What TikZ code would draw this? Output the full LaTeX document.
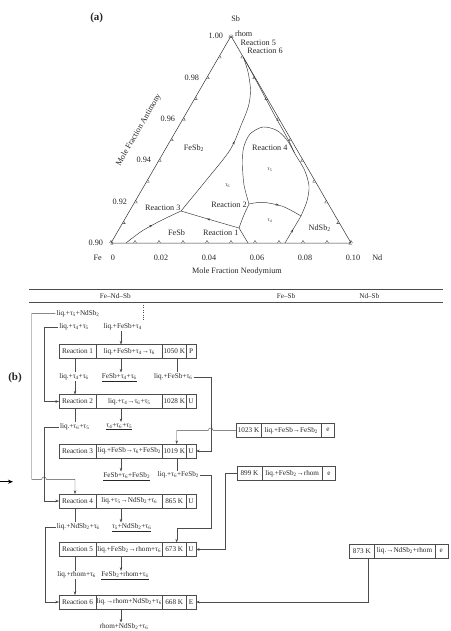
\documentclass[tikz,border=0pt]{standalone}
\usepackage{fontspec}
\setmainfont{Liberation Serif}
\usetikzlibrary{arrows.meta,calc,positioning,decorations.markings}
\tikzset{>=Stealth}
\newcommand{\tauph}[1]{τ\textsubscript{#1}}
\newcommand{\fsb}{FeSb\textsubscript{2}}
\newcommand{\nsb}{NdSb\textsubscript{2}}

\begin{document}
\begin{tikzpicture}[x=1pt, y=-1pt,
  every node/.style={text=black!85},
  tern/.style={font=\fontsize{8.2}{9}\selectfont},
  small/.style={font=\fontsize{5.5}{6}\selectfont},
  cell/.style={draw=black!70, line width=0.4pt, inner sep=0pt, outer sep=0pt,
    minimum height=14pt, font=\fontsize{7.2}{8}\selectfont},
  lbl/.style={inner sep=1pt, font=\fontsize{7.2}{8}\selectfont},
  wire/.style={draw=black!70, line width=0.4pt},
  conn/.style={wire, -{Stealth[length=3.5pt,width=2.5pt]}},
  axisline/.style={line width=0.5pt, black!80},
  phase/.style={line width=0.45pt, black!80},
  tick/.style={line width=0.3pt, black!80},
  midarrow/.style={postaction={decorate}, decoration={markings,
    mark=at position #1 with {\arrow{Stealth[length=3pt,width=2.2pt]}}}}]
\useasboundingbox (0,0) rectangle (450,631);

% ---- (a) liquidus projection, Sb-rich corner
\node[font=\bfseries\fontsize{11}{12}\selectfont] (tagA) at (96.7,18.3) {(a)};
\coordinate (Fe) at (111,243);
\coordinate (Nd) at (351,243);
\coordinate (Sb) at (231,36);
\draw[axisline] (Fe) -- (Nd) -- (Sb) -- cycle;
\foreach \i in {0,...,10} {
  \draw[tick] ($(Fe)!\i/10!(Nd)+(-1.5,0)$) -- ++(1.5,-2.6) -- ++(1.5,2.6);
  \draw[tick] ($(Fe)!\i/10!(Sb)+(-0.75,1.3)$) -- ++(3,0) -- ++(-1.5,-2.6);
  \draw[tick] ($(Nd)!\i/10!(Sb)+(-0.75,-1.3)$) -- ++(-1.5,2.6) -- ++(3,0);
}
\foreach \v/\k in {0/0,0.02/2,0.04/4,0.06/6,0.08/8,0.10/10}
  \node[tern] (bx\k) at ($(Fe)!\k/10!(Nd)+(2,15)$) {\v};
\foreach \v/\k in {0.90/0,0.92/2,0.94/4,0.96/6,0.98/8,1.00/10}
  \node[tern, anchor=east] (lx\k) at ($(Fe)!\k/10!(Sb)+(-4.5,0)$) {\v};
\node[tern] (feT) at (97.7,258) {Fe};
\node[tern] (ndT) at (377.3,258) {Nd};
\node[tern] (sbT) at (235.7,19) {Sb};
\node[tern] (ndax) at (237,272) {Mole Fraction Neodymium};
\node[tern, rotate=60] (sbax) at (138.8,130) {Mole Fraction Antimony};

% invariant points
\coordinate (R1) at (239,228);
\coordinate (R2) at (249,204);
\coordinate (R3) at (181,211);
\coordinate (R4) at (301,216);
\coordinate (R56) at (243.3,57);
\coordinate (J) at (294.5,153);

\draw[phase, midarrow=0.5] plot[smooth] coordinates {(126,243) (142,231) (161,220.5) (R3)};
\draw[phase, midarrow=0.55] plot[smooth] coordinates {(R1) (213,220.5) (R3)};
\draw[phase] (R1) -- (248,243);
\draw[phase] plot[smooth] coordinates {(R1) (243.5,216) (R2)};
\draw[phase, midarrow=0.55] plot[smooth] coordinates {(R2) (263,202.3) (283,206.5) (R4)};
\draw[phase, midarrow=0.5] (285,243) -- (R4);
\draw[phase] plot[smooth] coordinates {(R2) (244,185) (242.5,165) (243.5,148) (250,134)
  (263,127) (277,130.5) (287,140) (J)};
\draw[phase] plot[smooth] coordinates {(R56) (258,84) (275,116) (289,141) (J)
  (304.5,170) (309,186) (307,201) (R4)};
\draw[phase, midarrow=0.5] plot[smooth] coordinates {(R3) (206,180.5) (230,150) (242,123)
  (248.5,106) (250.5,90) (248,72) (R56)};

% primary fields and reaction labels
\node[tern] (fesb2) at (194,147.7) {\fsb};
\node[tern] (fesb) at (176.5,232.3) {FeSb};
\node[tern] (ndsb2) at (319.7,227.7) {\nsb};
\node[small] (t6) at (227.7,186) {\tauph{6}};
\node[small] (t5) at (270,170) {\tauph{5}};
\node[small] (t4) at (270,220.5) {\tauph{4}};
\node[tern] (rx1) at (220.7,233.3) {Reaction 1};
\node[tern] (rx2) at (229,205) {Reaction 2};
\node[tern] (rx3) at (162.8,208.3) {Reaction 3};
\node[tern] (rx4) at (269.8,147.7) {Reaction 4};
\node[tern] (rx5) at (258.2,42.7) {Reaction 5};
\node[tern] (rx6) at (265,51) {Reaction 6};
\node[tern] (rhom) at (243.7,33.7) {rhom};

% ---- (b) reaction scheme
\draw[wire] (29,289.3) -- (443,289.3);
\draw[wire] (29,302.3) -- (443,302.3);
\node[lbl] (hd1) at (115.3,295.7) {Fe–Nd–Sb};
\node[lbl] (hd2) at (286,295.7) {Fe–Sb};
\node[lbl] (hd3) at (369.3,295.7) {Nd–Sb};
\draw[wire, dotted] (143.3,305) -- (143.3,320);
\node[font=\bfseries\fontsize{11}{12}\selectfont] (tagB) at (15,377.7) {(b)};
\draw[line width=1pt, -{Stealth[length=5pt,width=4pt]}] (0,481.7) -- (13,481.7);

% ternary invariant reactions
\foreach \n/\y/\eq/\T/\ty in {
  1/351.5/{liq.+FeSb+\tauph{4}→\tauph{6}}/1050/P,
  2/401.5/{liq.+\tauph{4}→\tauph{6}+\tauph{5}}/1028/U,
  3/451/{liq.+FeSb→\tauph{6}+\fsb}/1019/U,
  4/501/{liq.+\tauph{5}→\nsb+\tauph{6}}/865/U,
  5/549.5/{liq.+\fsb→rhom+\tauph{6}}/673/U,
  6/602/{liq.→rhom+\nsb+\tauph{6}}/668/E} {
  \node[cell, minimum width=37pt, anchor=west] (ra\n) at (59,\y) {Reaction \n};
  \node[cell, minimum width=66.5pt, right=0pt of ra\n] (rb\n) {\eq};
  \node[cell, minimum width=23.5pt, right=0pt of rb\n] (rc\n) {\T\ K};
  \node[cell, minimum width=10pt, right=0pt of rc\n] (rd\n) {\ty};
}

% binary reactions
\foreach \n/\x/\y/\T/\eq in {
  1/236/430.3/1023/{liq.+FeSb→\fsb},
  2/237/473.5/899/{liq.+\fsb→rhom},
  3/349.3/550.7/873/{liq.→\nsb+rhom}} {
  \node[cell, minimum width=25pt, anchor=west] (sa\n) at (\x,\y) {\T\ K};
  \node[cell, minimum width=60.5pt, right=0pt of sa\n] (sb\n) {\eq};
  \node[cell, minimum width=13pt, right=0pt of sb\n] (sc\n) {e};
}

% phase assemblages
\node[lbl] (l1) at (78,313.3) {liq.+\tauph{5}+\nsb};
\node[lbl] (l2) at (74,326.7) {liq.+\tauph{4}+\tauph{5}};
\node[lbl] (l3) at (122.7,326.7) {liq.+FeSb+\tauph{4}};
\node[lbl] (l4) at (74,376.7) {liq.+\tauph{4}+\tauph{6}};
\node[lbl] (u1) at (119.3,377.7) {\underline{FeSb+\tauph{4}+\tauph{6}}};
\node[lbl] (l5) at (173.3,376.7) {liq.+FeSb+\tauph{6}};
\node[lbl] (l6) at (74.7,426.7) {liq.+\tauph{6}+\tauph{5}};
\node[lbl] (u2) at (119.3,426.7) {\underline{\tauph{4}+\tauph{6}+\tauph{5}}};
\node[lbl] (u3) at (126.7,476.7) {\underline{FeSb+\tauph{6}+\fsb}};
\node[lbl] (l7) at (178.3,475) {liq.+\tauph{6}+\fsb};
\node[lbl] (l8) at (78.3,526.7) {liq.+\nsb+\tauph{6}};
\node[lbl] (u4) at (131.7,527.7) {\underline{\tauph{5}+\nsb+\tauph{6}}};
\node[lbl] (l9) at (76.7,575) {liq.+rhom+\tauph{6}};
\node[lbl] (u5) at (125,576) {\underline{\fsb+rhom+\tauph{6}}};
\node[lbl] (l10) at (124,626.7) {rhom+\nsb+\tauph{6}};

% line columns
\coordinate (cb) at (31.7,0);
\coordinate (ca) at (44,0);
\coordinate (cc) at (45,0);
\coordinate (cl) at (75,0);
\coordinate (cm) at (121,0);
\coordinate (cr) at (176.7,0);
\coordinate (cj) at (210.7,0);
\coordinate (ck) at (225,0);

% connectors
\draw[conn] (l3.south -| cm) -- (rb1.north -| cm);
\draw[conn] (l2.west) -- (l2.west -| ca) |- (ra2.west);
\coordinate (jb) at (31.7,479.3);
\coordinate (hb) at (41.7,479.3);
\draw[conn] (l1.west) -| (jb) -- (hb) arc[start angle=180, end angle=0, radius=2.3pt]
  -- (jb -| cl) -- (ra4.north -| cl);
\draw[wire] (ra1.south -| cl) -- (l4.north -| cl);
\draw[conn] (l4.south -| cl) -- (ra2.north -| cl);
\draw[conn] (rb1.south -| cm) -- (u1.north -| cm);
\draw[wire] (rc1.south -| cr) -- (l5.north -| cr);
\draw[conn] (l5.east) -- (l5.east -| cj) |- (rd3.east);
\coordinate (ha) at (213,430.3);
\draw[conn] (sa1.west) -- (ha) arc[start angle=0, end angle=180, radius=2.3pt]
  -- (cr |- sa1.west) -- (rc3.north -| cr);
\draw[wire] (ra2.south -| cl) -- (l6.north -| cl);
\draw[conn] (l6.west) -- (l6.west -| ca) |- (ra4.west);
\draw[conn] (rb2.south -| cm) -- (u2.north -| cm);
\draw[conn] (rb3.south -| cm) -- (u3.north -| cm);
\draw[wire] (rc3.south -| cr) -- (l7.north -| cr);
\coordinate (jc) at (176.7,528.3);
\draw[conn] (l7.east) -| (cj |- jc) -- (jc) -- (rc5.north -| cr);
\draw[conn] (sa2.west) -| (ck |- rd5.east) -- (rd5.east);
\draw[wire] (ra4.south -| cl) -- (l8.north -| cl);
\draw[conn] (l8.west) -- (l8.west -| cc) |- (ra6.west);
\draw[conn] (rb4.south -| cm) -- (u4.north -| cm);
\draw[wire] (ra5.south -| cl) -- (l9.north -| cl);
\draw[conn] (l9.south -| cl) -- (ra6.north -| cl);
\draw[conn] (rb5.south -| cm) -- (u5.north -| cm);
\draw[conn] ([xshift=6pt]sa3.south) |- (rd6.east);
\draw[conn] (rb6.south -| cm) -- (l10.north -| cm);
\end{tikzpicture}
\end{document}
